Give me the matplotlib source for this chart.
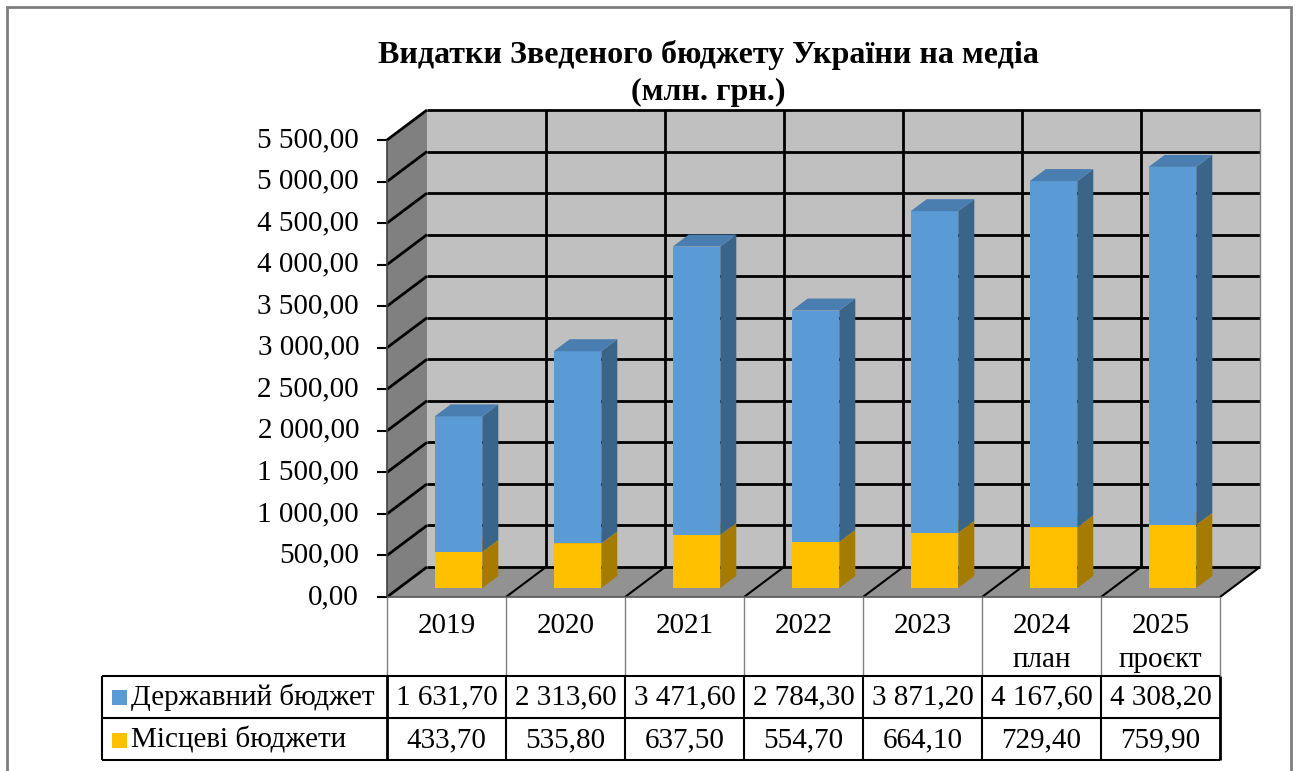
import matplotlib.pyplot as plt
import matplotlib.patches as mpatches
import matplotlib.lines as mlines
import matplotlib.transforms as mtransforms

plt.rcParams['font.family'] = ['Liberation Serif', 'DejaVu Serif']

years = ["2019", "2020", "2021", "2022", "2023", "2024", "2025"]
year_notes = ["", "", "", "", "", "план", "проєкт"]
state_budget = [1631.70, 2313.60, 3471.60, 2784.30, 3871.20, 4167.60, 4308.20]
local_budget = [433.70, 535.80, 637.50, 554.70, 664.10, 729.40, 759.90]
series_names = ["Державний бюджет", "Місцеві бюджети"]
y_ticks = [0, 500, 1000, 1500, 2000, 2500, 3000, 3500, 4000, 4500, 5000, 5500]

blue = "#5b9bd5"
blue_side = "#3a6589"
blue_top = "#4a7eb0"
yellow = "#ffc000"
yellow_side = "#a67c00"
yellow_top = "#d9a300"

W, H = 1298, 771
fig = plt.figure(figsize=(W / 100, H / 100), dpi=100)
ax = fig.add_axes([387 / W, (H - 597) / H, (1220 - 387) / W, (597 - 140) / H])
ax.set_xlim(-0.5, len(years) - 0.5)
ax.set_ylim(0, 5500)
ax.axis("off")

ident = mtransforms.IdentityTransform()
DX, DY = 40, 30  # depth of the 3d box in pixels
FS = 21


def fmt(v):
    return f"{v:,.2f}".replace(",", " ").replace(".", ",")


def pt(x, y, t=0.0):
    X, Y = ax.transData.transform((x, y))
    return (X + DX * t, Y + DY * t)


def py(y_px):
    # pixel row from the top of the image -> display y
    return H - y_px


def poly(points, color, z, ec="none", lw=0):
    fig.add_artist(mpatches.Polygon(points, closed=True, fc=color, ec=ec, lw=lw,
                                    transform=ident, zorder=z))


def line(p0, p1, color="black", lw=1.5, z=3):
    fig.add_artist(mlines.Line2D([p0[0], p1[0]], [p0[1], p1[1]], color=color, lw=lw,
                                 transform=ident, zorder=z, solid_capstyle="butt"))


x0, x1 = -0.5, len(years) - 0.5
top = y_ticks[-1]

# outer frame
fig.add_artist(mpatches.Rectangle((7, -5), 1284, py(7) + 5, fc="none", ec="#7f7f7f",
                                  lw=2, transform=ident, zorder=0))

# walls and floor
poly([pt(x0, 0, 1), pt(x1, 0, 1), pt(x1, top, 1), pt(x0, top, 1)], "#c0c0c0", 1)
poly([pt(x0, 0, 0), pt(x0, 0, 1), pt(x0, top, 1), pt(x0, top, 0)], "#808080", 1)
poly([pt(x0, 0, 0), pt(x1, 0, 0), pt(x1, 0, 1), pt(x0, 0, 1)], "#929292", 1)

for v in y_ticks:
    line(pt(x0, v, 1), pt(x1, v, 1), lw=2, z=2)
    line(pt(x0, v, 0), pt(x0, v, 1), lw=2, z=2)
    a = pt(x0, v, 0)
    ax.text(a[0] - 28, a[1], fmt(v), transform=ident, ha="right", va="center",
            fontsize=FS)
    line((a[0] - 10, a[1]), a, lw=1.5, z=3)

for k in range(1, len(years)):
    xb = k - 0.5
    line(pt(xb, 0, 1), pt(xb, top, 1), lw=2, z=2)
for k in range(1, len(years) + 1):
    xb = k - 0.5
    line(pt(xb, 0, 0), pt(xb, 0, 1), lw=1.5, z=2)
line(pt(x1, 0, 1), pt(x1, top, 1), color="#808080", lw=1, z=2)
line(pt(x0, 0, 0), pt(x0, top, 0), color="#404040", lw=1.2, z=3)
line(pt(x0, 0, 0), pt(x1, 0, 0), color="#555555", lw=1.2, z=3)

# 3d stacked bars
t0, t1 = 0.3, 0.7
hw = 0.2


def box(xc, y0, y1, face, side, topc, z):
    poly([pt(xc - hw, y0, t0), pt(xc + hw, y0, t0), pt(xc + hw, y1, t0), pt(xc - hw, y1, t0)], face, z)
    poly([pt(xc + hw, y0, t0), pt(xc + hw, y0, t1), pt(xc + hw, y1, t1), pt(xc + hw, y1, t0)], side, z)
    poly([pt(xc - hw, y1, t0), pt(xc + hw, y1, t0), pt(xc + hw, y1, t1), pt(xc - hw, y1, t1)], topc, z)


for i in range(len(years)):
    z = 5 + i
    box(i, 0, local_budget[i], yellow, yellow_side, yellow_top, z)
    box(i, local_budget[i], local_budget[i] + state_budget[i], blue, blue_side, blue_top, z + 0.5)

# data table
row_top, row_mid, row_bot = py(676), py(718), py(760)
left_x = 102
xs = [pt(k - 0.5, 0)[0] for k in range(len(years) + 1)]
front_y = pt(x0, 0)[1]

for k, xb in enumerate(xs):
    line((xb, front_y), (xb, row_top), color="#808080", lw=1, z=3)
    line((xb, row_top), (xb, row_bot), color="black", lw=1.5 if 0 < k < len(xs) - 1 else 2, z=3)
line((left_x, row_top), (left_x, row_bot), lw=1.5)
for yy in (row_top, row_mid, row_bot):
    line((left_x, yy), (xs[-1], yy), lw=1.5)

for i, (yr, note) in enumerate(zip(years, year_notes)):
    xc = (xs[i] + xs[i + 1]) / 2
    ax.text(xc, py(626), yr, transform=ident, ha="center", va="center", fontsize=FS)
    if note:
        ax.text(xc, py(660), note, transform=ident, ha="center", va="center", fontsize=FS)
    ax.text(xc, py(697), fmt(state_budget[i]), transform=ident, ha="center", va="center", fontsize=FS)
    ax.text(xc, py(740), fmt(local_budget[i]), transform=ident, ha="center", va="center", fontsize=FS)

for name, col, yc in zip(series_names, [blue, yellow], [py(697), py(740)]):
    fig.add_artist(mpatches.Rectangle((112, yc - 7.5), 15, 15, fc=col, ec="none",
                                      transform=ident, zorder=4))
    ax.text(131, yc, name, transform=ident, ha="left", va="center", fontsize=FS)

fig.text(708 / W, py(55) / H, "Видатки Зведеного бюджету України на медіа",
         ha="center", va="center", fontsize=23, fontweight="bold")
fig.text(708 / W, py(92) / H, "(млн. грн.)", ha="center", va="center",
         fontsize=23, fontweight="bold")

fig.savefig("out.png", dpi=100)
